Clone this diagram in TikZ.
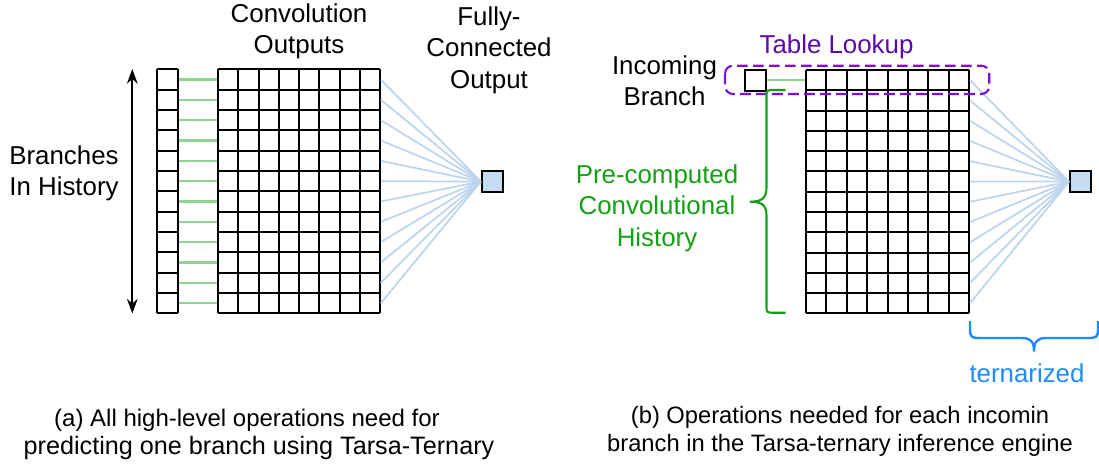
\documentclass[tikz,border=0pt]{standalone}
\usepackage{fontspec}
\setmainfont{Liberation Sans}
\usetikzlibrary{arrows.meta}
\definecolor{gline}{HTML}{8ED48E}
\definecolor{bline}{HTML}{BCD4EC}
\definecolor{bfill}{HTML}{C6DCF0}
\definecolor{purp}{HTML}{7A10E0}
\definecolor{purptext}{HTML}{5A0AA8}
\definecolor{dgreen}{HTML}{14A014}
\definecolor{tblue}{HTML}{1E8CFF}
\tikzset{
  gridln/.style={line width=1.5pt, draw=black},
  greenln/.style={line width=1.6pt, draw=gline},
  blueln/.style={line width=1.3pt, draw=bline},
  outbox/.style={draw=black, line width=1.5pt, fill=bfill, minimum size=15.5pt, inner sep=0pt},
  inbox/.style={draw=black, line width=1.5pt, minimum size=15.5pt, inner sep=0pt},
  lbl/.style={font=\fontsize{19.4}{23.5}\selectfont, align=center, inner sep=0pt},
  captxt/.style={font=\fontsize{17.8}{21}\selectfont, align=center, inner sep=0pt}
}
\begin{document}
\begin{tikzpicture}[x=0.75pt, y=-0.75pt]
\useasboundingbox (0,0) rectangle (1099,468);

% ---------- panel (a) ----------
% history column
\foreach \j in {0,...,12} {\draw[gridln] (157,{69.3+\j*20.33}) -- (178,{69.3+\j*20.33});}
\draw[gridln] (157,69.3) -- (157,313.3);
\draw[gridln] (178,69.3) -- (178,313.3);
% main grid
\foreach \j in {0,...,12} {\draw[gridln] (218,{69.3+\j*20.33}) -- (380,{69.3+\j*20.33});}
\foreach \i in {0,...,8} {\draw[gridln] ({218+\i*20.25},69.3) -- ({218+\i*20.25},313.3);}
% green links
\foreach \j in {0,...,11} {\draw[greenln] (178.8,{79.5+\j*20.33}) -- (217.2,{79.5+\j*20.33});}
% output
\node[outbox] (outA) at (492.2,181.6) {};
\foreach \j in {0,...,11} {\draw[blueln] (380.8,{79.5+\j*20.33}) -- (outA.west);}
% arrow
\coordinate (arT) at (132.3,69);
\coordinate (arB) at (132.3,313.5);
\draw[line width=1.5pt, {Stealth[length=11pt,width=8pt]}-{Stealth[length=11pt,width=8pt]}] (arT) -- (arB);

\node[lbl] (tConv) at (299,31) {Convolution\\Outputs};
\node[lbl] (tFC) at (489,50) {Fully-\\Connected\\Output};
\node[lbl] (tBr) at (64,173) {Branches\\In History};
\node[captxt, font=\fontsize{18}{21}\selectfont] (capA1) at (247,420) {(a) All high-level operations need for};
\node[captxt, font=\fontsize{18.9}{21}\selectfont] (capA2) at (259,448) {predicting one branch using Tarsa-Ternary};

% ---------- panel (b) ----------
\foreach \j in {0,...,12} {\draw[gridln] (805.7,{70+\j*20.28}) -- (969.3,{70+\j*20.28});}
\foreach \i in {0,...,8} {\draw[gridln] ({805.7+\i*20.45},70) -- ({805.7+\i*20.45},313.3);}
\node[inbox] (inB) at (755.8,80.3) {};
\draw[greenln] (inB.east) -- (805,80.3);
\node[outbox] (outB) at (1080.3,181.6) {};
\foreach \j in {0,...,11} {\draw[blueln] (970,{80.1+\j*20.28}) -- (outB.west);}
% dashed lookup box
\draw[purp, line width=1.6pt, dash pattern=on 8pt off 4pt, rounded corners=6pt] (725,65.7) rectangle (989.3,94);
\node[lbl, text=purptext] (tTL) at (836.5,46.5) {Table Lookup};
\node[lbl] (tIn) at (664.5,80.5) {Incoming\\Branch};
% green brace
\draw[dgreen, line width=1.6pt] (785.5,90) -- (774,90) .. controls (766.5,90) and (766.5,90) .. (766.5,97.5) -- (766.5,187) .. controls (766.5,198) and (762,201.7) .. (750,201.7) .. controls (762,201.7) and (766.5,205) .. (766.5,216) -- (766.5,305) .. controls (766.5,312.7) and (766.5,312.7) .. (774,312.7) -- (785.5,312.7);
\node[lbl, text=dgreen] (tPre) at (657,208) {Pre-computed\\Convolutional\\History};
% ternarized brace
\draw[tblue, line width=1.8pt] (970,321) -- (970,329) .. controls (970,338) and (972,338) .. (981,338) -- (1022,338) .. controls (1031,338) and (1034,342) .. (1034,351.5) .. controls (1034,342) and (1037,338) .. (1046,338) -- (1087,338) .. controls (1096,338) and (1098,338) .. (1098,329) -- (1098,321);
\node[lbl, text=tblue] (tTer) at (1027,373) {ternarized};
\node[captxt] (capB) at (840,431) {(b) Operations needed for each incomin\\branch in the Tarsa-ternary inference engine};
\end{tikzpicture}
\end{document}
